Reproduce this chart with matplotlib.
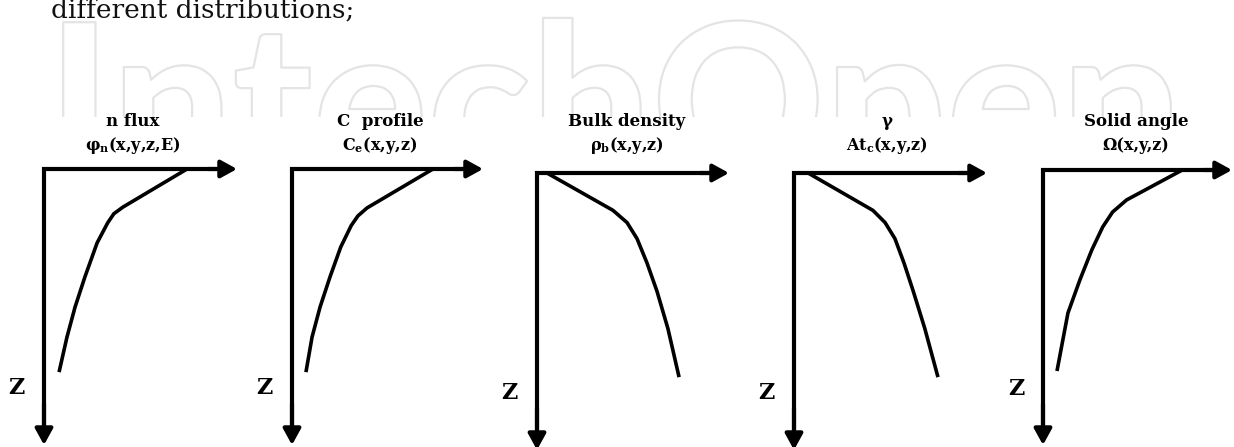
import matplotlib
matplotlib.use('Agg')
import matplotlib.pyplot as plt
from matplotlib import patheffects
from matplotlib.patches import Rectangle

plt.rcParams['mathtext.fontset'] = 'custom'
plt.rcParams['mathtext.rm'] = 'DejaVu Serif:bold'
plt.rcParams['mathtext.it'] = 'DejaVu Serif:bold'
plt.rcParams['mathtext.bf'] = 'DejaVu Serif:bold'

W, H = 1234, 447

# panel labels
titles = ['n flux', 'C  profile', 'Bulk density', 'γ', 'Solid angle']
subtitles = [r'φ$_{\rm n}$(x,y,z,E)', r'C$_{\rm e}$(x,y,z)', r'ρ$_{\rm b}$(x,y,z)',
             r'At$_{\rm c}$(x,y,z)', r'Ω(x,y,z)']

# profiles: value (fraction of axis) vs depth (fraction of axis)
flux_x = [0.741, 0.409, 0.362, 0.330, 0.275, 0.212, 0.161, 0.119, 0.078]
flux_z = [0.000, 0.138, 0.162, 0.195, 0.268, 0.391, 0.500, 0.609, 0.736]
conc_x = [0.738, 0.393, 0.345, 0.310, 0.255, 0.199, 0.147, 0.105, 0.073]
conc_z = [0.000, 0.141, 0.170, 0.205, 0.283, 0.391, 0.500, 0.609, 0.736]
dens_x = [0.052, 0.396, 0.469, 0.521, 0.573, 0.625, 0.682, 0.740]
dens_z = [0.000, 0.135, 0.179, 0.237, 0.325, 0.427, 0.562, 0.737]
gamma_x = [0.073, 0.409, 0.472, 0.523, 0.570, 0.618, 0.678, 0.746]
gamma_z = [0.000, 0.135, 0.179, 0.237, 0.325, 0.427, 0.562, 0.737]
solid_x = [0.737, 0.442, 0.368, 0.316, 0.258, 0.195, 0.132, 0.105, 0.074]
solid_z = [0.000, 0.109, 0.153, 0.207, 0.291, 0.400, 0.520, 0.618, 0.731]

curves = [(flux_x, flux_z), (conc_x, conc_z), (dens_x, dens_z),
          (gamma_x, gamma_z), (solid_x, solid_z)]

# panel layout in pixels
axis_left = [44, 292, 537, 794, 1043]
axis_top = [169, 169, 173, 173, 170]
arrow_right = [237, 483, 729, 987, 1232]
arrow_bottom = [445, 445, 450, 450, 445]
title_center = [133, 380, 627, 887, 1136]

fig = plt.figure(figsize=(W / 100, H / 100), dpi=100)
fig.patch.set_facecolor('white')

# caption fragment at the top
fig.text(51 / W, 1 - 18 / H, 'different distributions;', family='DejaVu Serif',
         fontsize=19, color='#111111', ha='left', va='baseline', zorder=1)

# faint outlined watermark, hidden below the picture edge
wm = fig.text(47 / W, 1 - 195 / H, 'IntechOpen', family='Lato', weight='black',
              fontsize=150, color='white', ha='left', va='baseline', zorder=-3,
              path_effects=[patheffects.Stroke(linewidth=1.6, foreground='#e4e4e4')])
r = fig.canvas.get_renderer()
bb = wm.get_window_extent(r)
fs = 150 * (1183 - 47) / bb.width
wm.set_fontsize(fs)
cap = 0.717 * fs * 100 / 72
wm.set_position((47 / W, 1 - (24 + cap) / H))
fig.add_artist(Rectangle((0, 0), 1, 1 - 117 / H, facecolor='white',
                         edgecolor='none', zorder=-2))

for i in range(5):
    x0, y0 = axis_left[i], axis_top[i]
    x1, y1 = arrow_right[i], arrow_bottom[i]
    ax = fig.add_axes([x0 / W, 1 - y1 / H, (x1 - x0) / W, (y1 - y0) / H])
    ax.set_xlim(0, 1)
    ax.set_ylim(1, 0)
    ax.axis('off')

    ax.plot([0.93, 0, 0], [0, 0, 0.95], color='black', lw=3,
            solid_joinstyle='miter', solid_capstyle='butt', clip_on=False)
    head = dict(arrowstyle='-|>,head_length=0.4,head_width=0.22', color='black',
                lw=3, mutation_scale=24, shrinkA=0, shrinkB=0)
    ax.annotate('', xy=(1, 0), xytext=(0.85, 0), arrowprops=head,
                annotation_clip=False)
    ax.annotate('', xy=(0, 1), xytext=(0, 0.85), arrowprops=head,
                annotation_clip=False)

    cx, cz = curves[i]
    ax.plot(cx, cz, color='black', lw=2.6, solid_joinstyle='round',
            solid_capstyle='butt', clip_on=False)

    ax.text(-0.143, 0.205, 'Z', transform=ax.transAxes, family='DejaVu Serif',
            weight='bold', fontsize=16, ha='center', va='center')

    fig.text(title_center[i] / W, 1 - 121 / H, titles[i], family='DejaVu Serif',
             weight='bold', fontsize=12, ha='center', va='center')
    fig.text(title_center[i] / W, 1 - 145 / H, subtitles[i], family='DejaVu Serif',
             weight='bold', fontsize=11.5, ha='center', va='center')

fig.savefig('out.png', dpi=100, facecolor='white')
